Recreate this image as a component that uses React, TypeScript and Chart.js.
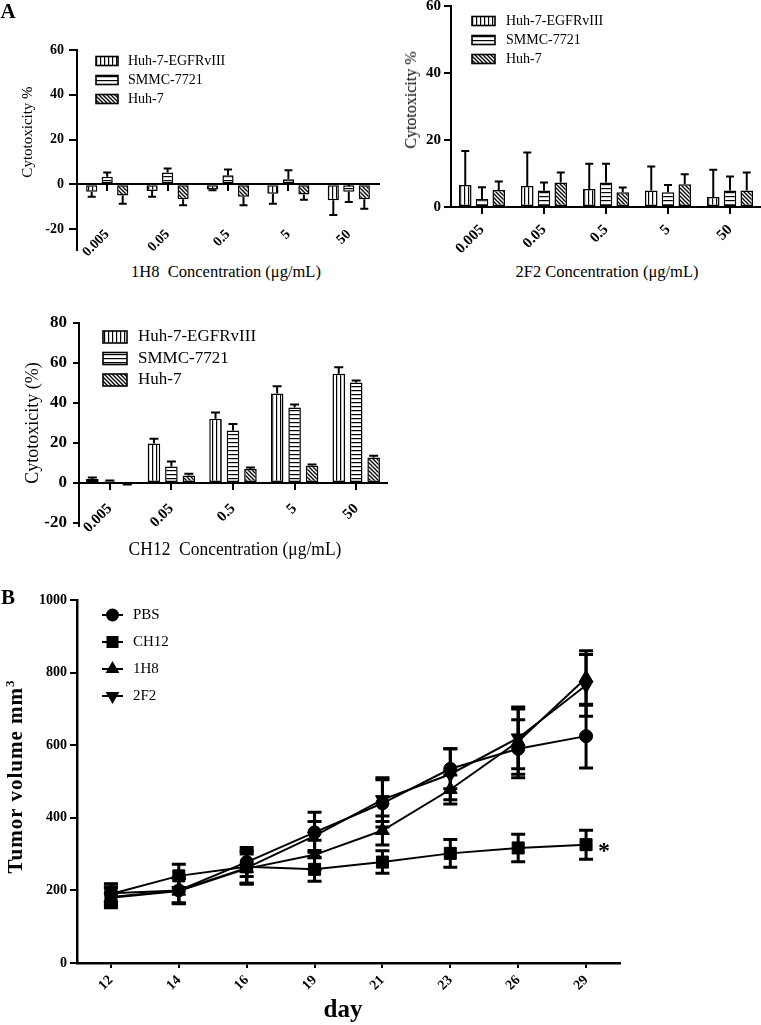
import React, { useEffect, useRef } from 'react';
import { Chart, registerables } from 'chart.js';

Chart.register(...registerables);

const SERIF = '"Liberation Serif", "Times New Roman", serif';

// ---------------- Panel A data ----------------
const concentrations = ['0.005', '0.05', '0.5', '5', '50'];
const cellLines = ['Huh-7-EGFRvIII', 'SMMC-7721', 'Huh-7'];

// 1H8 antibody
const h8EgfrMean = [-3.4, -3.0, -2.4, -4.2, -7.2];
const h8EgfrErr = [2.2, 2.6, 0.3, 4.5, 6.5];
const h8SmmcMean = [3.3, 5.2, 4.0, 2.2, -3.4];
const h8SmmcErr = [1.9, 1.8, 2.6, 4.1, 4.5];
const h8HuhMean = [-5.0, -6.7, -5.6, -4.6, -6.7];
const h8HuhErr = [3.7, 2.7, 3.8, 2.3, 4.2];

// 2F2 antibody
const f2EgfrMean = [6.6, 6.3, 5.4, 4.9, 3.0];
const f2EgfrErr = [10.1, 10.0, 7.5, 7.2, 8.1];
const f2SmmcMean = [2.4, 4.9, 7.3, 4.4, 4.9];
const f2SmmcErr = [3.5, 2.4, 5.6, 2.2, 4.2];
const f2HuhMean = [5.1, 7.3, 4.4, 6.8, 4.9];
const f2HuhErr = [2.5, 3.0, 1.4, 3.0, 5.4];

// CH12 antibody
const chEgfrMean = [2.0, 19.7, 32.1, 44.8, 54.6];
const chEgfrErr = [0.8, 2.4, 3.1, 3.6, 3.3];
const chSmmcMean = [0.8, 8.2, 26.2, 37.7, 50.2];
const chSmmcErr = [0.4, 2.6, 3.3, 1.6, 1.1];
const chHuhMean = [-0.5, 3.8, 7.0, 8.6, 12.8];
const chHuhErr = [0.3, 0.8, 0.8, 0.6, 0.8];

const ticks1H8 = [-20, 0, 20, 40, 60];
const ticks2F2 = [0, 20, 40, 60];
const ticksCH12 = [-20, 0, 20, 40, 60, 80];

// ---------------- Panel B data ----------------
const days = ['12', '14', '16', '19', '21', '23', '26', '29'];
const groups = ['PBS', 'CH12', '1H8', '2F2'];
const pbsMean = [192, 200, 278, 360, 440, 535, 590, 625];
const pbsErr = [25, 35, 40, 55, 65, 55, 80, 88];
const ch12Mean = [190, 240, 265, 258, 278, 302, 317, 326];
const ch12Err = [28, 32, 45, 33, 31, 38, 38, 40];
const h8Mean = [180, 198, 260, 298, 365, 478, 610, 785];
const h8Err = [28, 35, 40, 40, 40, 40, 90, 75];
const f2Mean = [182, 200, 262, 350, 450, 520, 620, 765];
const f2Err = [25, 35, 45, 40, 60, 70, 85, 85];
const volumeTicks = [0, 200, 400, 600, 800, 1000];

// ---------------- helpers ----------------
function makePattern(kind: string): any {
  const c = document.createElement('canvas');
  const s = 4;
  c.width = s;
  c.height = s;
  const g = c.getContext('2d') as CanvasRenderingContext2D;
  g.fillStyle = '#fff';
  g.fillRect(0, 0, s, s);
  g.fillStyle = '#000';
  if (kind === 'v') {
    g.fillRect(0, 0, 1.2, s);
  } else if (kind === 'h') {
    g.fillRect(0, 0, s, 1.2);
  } else {
    g.strokeStyle = '#000';
    g.lineWidth = 1.3;
    g.beginPath();
    g.moveTo(-1, -1);
    g.lineTo(s + 1, s + 1);
    g.moveTo(-1, s - 1);
    g.lineTo(1, s + 1);
    g.moveTo(s - 1, -1);
    g.lineTo(s + 1, 1);
    g.stroke();
  }
  return g.createPattern(c, 'repeat');
}

function drawMarker(ctx: CanvasRenderingContext2D, style: string, rot: number, x: number, y: number, r: number) {
  ctx.beginPath();
  if (style === 'circle') {
    ctx.arc(x, y, r, 0, Math.PI * 2);
  } else if (style === 'rect') {
    const s = r * Math.SQRT1_2;
    ctx.rect(x - s, y - s, 2 * s, 2 * s);
  } else {
    const dir = rot === 180 ? 1 : -1;
    const a = Math.PI / 6;
    ctx.moveTo(x, y + dir * r);
    ctx.lineTo(x - r * Math.cos(a), y - dir * r * Math.sin(a));
    ctx.lineTo(x + r * Math.cos(a), y - dir * r * Math.sin(a));
    ctx.closePath();
  }
  ctx.fill();
}

function drawErrors(chart: any, opts: any) {
  const ctx = chart.ctx;
  const ys = chart.scales.y;
  ctx.save();
  ctx.strokeStyle = '#000';
  ctx.lineWidth = opts.lineWidth;
  chart.data.datasets.forEach((ds: any, i: number) => {
    const meta = chart.getDatasetMeta(i);
    meta.data.forEach((el: any, j: number) => {
      const v = ds.data[j];
      const e = ds.errors[j];
      const x = el.x;
      const half = opts.cap / 2;
      ctx.beginPath();
      if (opts.mode === 'bar') {
        const end = v >= 0 ? v + e : v - e;
        const y0 = ys.getPixelForValue(v);
        const y1 = ys.getPixelForValue(end);
        ctx.moveTo(x, y0);
        ctx.lineTo(x, y1);
        ctx.moveTo(x - half, y1);
        ctx.lineTo(x + half, y1);
      } else {
        const yl = ys.getPixelForValue(v - e);
        const yh = ys.getPixelForValue(v + e);
        ctx.moveTo(x, yl);
        ctx.lineTo(x, yh);
        ctx.moveTo(x - half, yl);
        ctx.lineTo(x + half, yl);
        ctx.moveTo(x - half, yh);
        ctx.lineTo(x + half, yh);
      }
      ctx.stroke();
    });
  });
  ctx.restore();
}

const errorBarPlugin: any = {
  id: 'errorBars',
  beforeDatasetsDraw(chart: any, _a: any, opts: any) {
    if (opts && opts.mode === 'line') drawErrors(chart, opts);
  },
  afterDatasetsDraw(chart: any, _a: any, opts: any) {
    if (opts && opts.mode === 'bar') drawErrors(chart, opts);
  },
};

const insetLegendPlugin: any = {
  id: 'insetLegend',
  afterDraw(chart: any, _a: any, o: any) {
    if (!o || !o.kind) return;
    const ctx = chart.ctx;
    ctx.save();
    ctx.font = `${o.fontSize}px ${SERIF}`;
    ctx.textBaseline = 'middle';
    chart.data.datasets.forEach((ds: any, i: number) => {
      const y = o.y + i * o.rowGap;
      if (o.kind === 'bar') {
        ctx.fillStyle = ds.backgroundColor;
        ctx.fillRect(o.x, y - o.boxH / 2, o.boxW, o.boxH);
        ctx.strokeStyle = '#000';
        ctx.lineWidth = 1.6;
        ctx.strokeRect(o.x, y - o.boxH / 2, o.boxW, o.boxH);
      } else {
        ctx.strokeStyle = '#000';
        ctx.lineWidth = 2;
        ctx.beginPath();
        ctx.moveTo(o.x, y);
        ctx.lineTo(o.x + o.lineW, y);
        ctx.stroke();
        ctx.fillStyle = '#000';
        drawMarker(ctx, ds.pointStyle, ds.pointRotation || 0, o.x + o.lineW / 2, y, ds.pointRadius);
      }
      ctx.fillStyle = '#000';
      ctx.fillText(ds.label, o.textX, y);
    });
    ctx.restore();
  },
};

const axisExtendPlugin: any = {
  id: 'axisExtend',
  afterDraw(chart: any, _a: any, o: any) {
    if (!o || !o.px) return;
    const ctx = chart.ctx;
    const a = chart.chartArea;
    ctx.save();
    ctx.strokeStyle = '#000';
    ctx.lineWidth = 2;
    ctx.beginPath();
    ctx.moveTo(Math.round(a.left), a.bottom);
    ctx.lineTo(Math.round(a.left), a.bottom + o.px);
    ctx.stroke();
    ctx.restore();
  },
};

const plainLabel = (v: any) => String(v);

function barConfig(p: any) {
  const patterns = [makePattern('v'), makePattern('h'), makePattern('d')];
  const bold = (size: number) => ({ family: SERIF, weight: 'bold' as const, size });
  return {
    type: 'bar',
    data: {
      labels: concentrations,
      datasets: p.means.map((m: number[], i: number) => ({
        label: cellLines[i],
        data: m,
        errors: p.errs[i],
        backgroundColor: patterns[i],
        borderColor: '#000',
        borderWidth: 1.5,
        borderSkipped: false,
        categoryPercentage: p.cat,
        barPercentage: p.bar,
      })),
    },
    options: {
      animation: false,
      responsive: false,
      devicePixelRatio: 1,
      layout: { padding: p.padding },
      plugins: {
        legend: { display: false },
        tooltip: { enabled: false },
        errorBars: { mode: 'bar', cap: p.cap, lineWidth: 2 },
        insetLegend: p.legend,
        axisExtend: { px: p.extend },
      },
      scales: {
        x: {
          type: 'category',
          position: { y: 0 },
          offset: true,
          grid: { offset: false, drawOnChartArea: false, drawTicks: true, tickLength: 6, color: '#000', lineWidth: 2 },
          border: { display: true, color: '#000', width: 2 },
          ticks: { color: '#000', font: bold(p.xFont), minRotation: 45, maxRotation: 45, autoSkip: false, padding: p.xPad },
          afterFit: (s: any) => { s.height = 0; s.paddingLeft = 0; s.paddingRight = 0; },
        },
        y: {
          min: p.min,
          max: p.max,
          grid: { drawOnChartArea: false, drawTicks: true, tickLength: p.yTick, color: '#000', lineWidth: 2 },
          border: { display: true, color: '#000', width: 2 },
          ticks: { color: '#000', font: bold(p.yFont), padding: p.yPad, callback: plainLabel },
          afterBuildTicks: (s: any) => { s.ticks = p.ticks.map((v: number) => ({ value: v })); },
          afterFit: (s: any) => { s.width = p.yWidth; s.paddingTop = 0; s.paddingBottom = 0; },
        },
      },
    },
    plugins: [errorBarPlugin, insetLegendPlugin, axisExtendPlugin],
  } as any;
}

function lineConfig() {
  const shapes = [
    { pointStyle: 'circle', pointRadius: 6.5, pointRotation: 0 },
    { pointStyle: 'rect', pointRadius: 8.5, pointRotation: 0 },
    { pointStyle: 'triangle', pointRadius: 8, pointRotation: 0 },
    { pointStyle: 'triangle', pointRadius: 8, pointRotation: 180 },
  ];
  const means = [pbsMean, ch12Mean, h8Mean, f2Mean];
  const errs = [pbsErr, ch12Err, h8Err, f2Err];
  const bold = (size: number) => ({ family: SERIF, weight: 'bold' as const, size });
  return {
    type: 'line',
    data: {
      labels: days,
      datasets: groups.map((g, i) => ({
        label: g,
        data: means[i],
        errors: errs[i],
        ...shapes[i],
        borderColor: '#000',
        borderWidth: 2,
        backgroundColor: '#000',
        pointBackgroundColor: '#000',
        pointBorderColor: '#000',
        pointBorderWidth: 1,
        tension: 0,
        fill: false,
      })),
    },
    options: {
      animation: false,
      responsive: false,
      devicePixelRatio: 1,
      layout: { padding: { left: 0, top: 30, right: 80, bottom: 17 } },
      plugins: {
        legend: { display: false },
        tooltip: { enabled: false },
        errorBars: { mode: 'line', cap: 14, lineWidth: 3 },
        insetLegend: { kind: 'line', x: 102, lineW: 21, y: 45, rowGap: 27, textX: 133, fontSize: 15 },
      },
      scales: {
        x: {
          type: 'category',
          offset: true,
          position: 'bottom',
          grid: { offset: false, drawOnChartArea: false, drawTicks: true, tickLength: 5, color: '#000', lineWidth: 2 },
          border: { display: true, color: '#000', width: 2.5 },
          ticks: { color: '#000', font: bold(14), minRotation: 45, maxRotation: 45, autoSkip: false, padding: 4 },
          afterFit: (s: any) => { s.height = 45; s.paddingLeft = 0; s.paddingRight = 0; },
        },
        y: {
          min: 0,
          max: 1000,
          grid: { drawOnChartArea: false, drawTicks: true, tickLength: 7, color: '#000', lineWidth: 2 },
          border: { display: true, color: '#000', width: 2.5 },
          ticks: { color: '#000', font: bold(14), padding: 3, callback: plainLabel },
          afterBuildTicks: (s: any) => { s.ticks = volumeTicks.map((v) => ({ value: v })); },
          afterFit: (s: any) => { s.width = 77; s.paddingTop = 0; s.paddingBottom = 0; },
        },
      },
    },
    plugins: [errorBarPlugin, insetLegendPlugin],
  } as any;
}

function ChartCanvas({ left, top, width, height, make }: any) {
  const ref = useRef<HTMLCanvasElement | null>(null);
  useEffect(() => {
    const chart = new Chart(ref.current as HTMLCanvasElement, make());
    return () => chart.destroy();
  }, []);
  return (
    <canvas
      ref={ref}
      width={width}
      height={height}
      style={{ position: 'absolute', left, top, width, height }}
    />
  );
}

function Txt({ x, y, size, bold, rotate, sx, children }: any) {
  return (
    <div
      style={{
        position: 'absolute',
        left: x,
        top: y,
        transform: `translate(-50%, -50%) rotate(${rotate || 0}deg) scaleX(${sx || 1})`,
        fontFamily: SERIF,
        fontSize: size,
        fontWeight: bold ? 'bold' : 'normal',
        whiteSpace: 'pre',
        lineHeight: 1,
        color: '#000',
      }}
    >
      {children}
    </div>
  );
}

export default function App() {
  const p1 = () =>
    barConfig({
      means: [h8EgfrMean, h8SmmcMean, h8HuhMean],
      errs: [h8EgfrErr, h8SmmcErr, h8HuhErr],
      cat: 0.77, bar: 0.72, cap: 8,
      padding: { left: 0, top: 50, right: 1, bottom: 31 },
      min: -20, max: 60, ticks: ticks1H8,
      yWidth: 77, yTick: 8, yPad: 5, yFont: 14,
      xFont: 14, xPad: 36, extend: 22,
      legend: { kind: 'bar', x: 96, boxW: 22, boxH: 9, y: 61, rowGap: 19, textX: 128, fontSize: 14 },
    });
  const p2 = () =>
    barConfig({
      means: [f2EgfrMean, f2SmmcMean, f2HuhMean],
      errs: [f2EgfrErr, f2SmmcErr, f2HuhErr],
      cat: 0.81, bar: 0.75, cap: 8,
      padding: { left: 0, top: 6, right: 0, bottom: 53 },
      min: 0, max: 60, ticks: ticks2F2,
      yWidth: 71, yTick: 7, yPad: 3, yFont: 15,
      xFont: 15, xPad: 8, extend: 0,
      legend: { kind: 'bar', x: 92, boxW: 23, boxH: 9, y: 21, rowGap: 19, textX: 126, fontSize: 14 },
    });
  const p3 = () =>
    barConfig({
      means: [chEgfrMean, chSmmcMean, chHuhMean],
      errs: [chEgfrErr, chSmmcErr, chHuhErr],
      cat: 0.85, bar: 0.72, cap: 9,
      padding: { left: 0, top: 33, right: 13, bottom: 37 },
      min: -20, max: 80, ticks: ticksCH12,
      yWidth: 79, yTick: 6, yPad: 6, yFont: 17,
      xFont: 15, xPad: 11, extend: 4,
      legend: { kind: 'bar', x: 103, boxW: 24, boxH: 12, y: 47, rowGap: 21.5, textX: 138, fontSize: 17 },
    });

  return (
    <div style={{ position: 'absolute', left: 0, top: 0, width: 761, height: 1025, background: '#fff', overflow: 'hidden' }}>
      <ChartCanvas left={0} top={0} width={380} height={260} make={p1} />
      <ChartCanvas left={380} top={0} width={381} height={260} make={p2} />
      <ChartCanvas left={0} top={290} width={400} height={270} make={p3} />
      <ChartCanvas left={0} top={570} width={700} height={455} make={lineConfig} />

      <Txt x={8} y={11} size={21} bold>A</Txt>
      <Txt x={27} y={132} size={15} rotate={-90}>Cytotoxicity %</Txt>
      <Txt x={226} y={272} size={16.5}>{'1H8  Concentration (\u03bcg/mL)'}</Txt>

      <Txt x={411} y={100} size={16} rotate={-90}>Cytotoxicity %</Txt>
      <Txt x={607} y={272} size={16.5}>{'2F2 Concentration (\u03bcg/mL)'}</Txt>

      <Txt x={32} y={423} size={18} rotate={-90}>Cytotoxicity (%)</Txt>
      <Txt x={235} y={548} size={19} sx={0.92}>{'CH12  Concentration (\u03bcg/mL)'}</Txt>

      <Txt x={8} y={597} size={21} bold>B</Txt>
      <Txt x={14} y={777} size={21} bold rotate={-90}>
        <span style={{ letterSpacing: 1 }}>Tumor volume mm</span>
        <sup style={{ fontSize: 13 }}>3</sup>
      </Txt>
      <Txt x={343} y={1008} size={25} bold>day</Txt>
      <Txt x={604} y={850} size={24} bold>*</Txt>
    </div>
  );
}
